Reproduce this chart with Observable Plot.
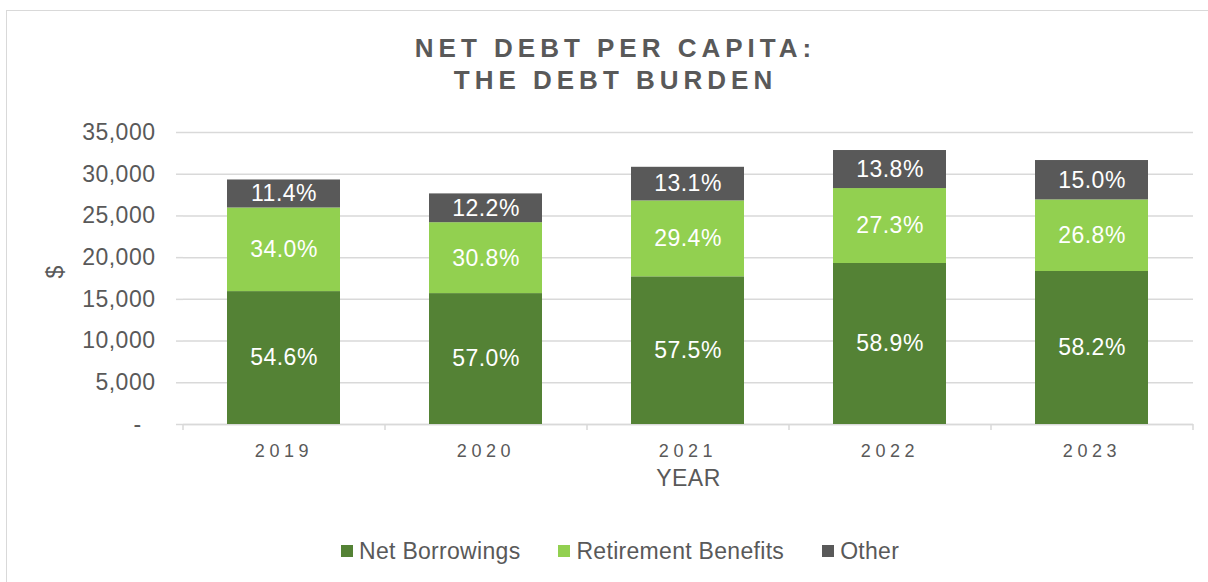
<!DOCTYPE html>
<html>
<head>
<meta charset="utf-8">
<script src="https://cdn.jsdelivr.net/npm/d3@7"></script>
<script src="https://cdn.jsdelivr.net/npm/@observablehq/plot@0.6"></script>
<style>
  html, body { margin: 0; padding: 0; background: #ffffff; }
  #wrap { position: relative; width: 1208px; height: 582px; overflow: hidden; background: #ffffff;
          font-family: "Liberation Sans", Arial, sans-serif; color: #595959; }
  #frame { position: absolute; left: 6px; top: 10px; width: 1400px; height: 800px;
           border: 1.5px solid #d9d9d9; box-sizing: border-box; }
  #title { position: absolute; top: 32px; left: 613px; transform: translateX(-50%);
           font-size: 26px; line-height: 32px; font-weight: bold; letter-spacing: 5px;
           padding-left: 5px; text-align: center; white-space: nowrap; color: #595959; }
  #chart { position: absolute; left: 0; top: 100px; }
  #chart svg text { letter-spacing: 0.5px; }
  #chart g[aria-label="x-axis tick label"] text { letter-spacing: 4.6px; }
  #legend { position: absolute; left: 341px; top: 540px; height: 22px; display: flex;
            align-items: center; gap: 38px; font-size: 23px; line-height: 22px; letter-spacing: 0.3px;
            color: #595959; white-space: nowrap; }
  .item { display: flex; align-items: center; }
  .sw { width: 12px; height: 12px; margin-right: 6px; }
</style>
</head>
<body>
<div id="wrap">
  <div id="frame"></div>
  <div id="title">NET DEBT PER CAPITA:<br>THE DEBT BURDEN</div>
  <div id="chart"></div>
  <div id="legend"></div>
</div>
<script>
// ---- data ----
const years = ["2019", "2020", "2021", "2022", "2023"];
const seriesNames = ["Net Borrowings", "Retirement Benefits", "Other"];
const seriesColors = ["#548235", "#92D050", "#595959"];
const netBorrowings = [15930, 15690, 17700, 19300, 18340];
const retirementBenefits = [10020, 8500, 9100, 8980, 8580];
const other = [3360, 3450, 4030, 4560, 4720];
const netPct = [54.6, 57.0, 57.5, 58.9, 58.2];
const retPct = [34.0, 30.8, 29.4, 27.3, 26.8];
const otherPct = [11.4, 12.2, 13.1, 13.8, 15.0];
const yTicks = [0, 5000, 10000, 15000, 20000, 25000, 30000, 35000];
const yLabel = "$";
const xLabel = "YEAR";

// ---- table ----
const seriesValues = [netBorrowings, retirementBenefits, other];
const seriesPct = [netPct, retPct, otherPct];
const rows = years.flatMap((yr, i) =>
  seriesNames.map((s, k) => ({ year: yr, series: s, value: seriesValues[k][i], pct: seriesPct[k][i] }))
);

// ---- layout ----
const W = 1208, H = 404, mL = 183, mR = 15, mT = 32, mB = 80;
const frameH = H - mT - mB;
const step = (W - mL - mR) / years.length;
const grid = "#d9d9d9";
const fmt = d3.format(",");

const chart = Plot.plot({
  width: W, height: H,
  marginLeft: mL, marginRight: mR, marginTop: mT, marginBottom: mB,
  style: { fontFamily: "'Liberation Sans', Arial, sans-serif", fontSize: "23px", color: "#595959", background: "transparent", overflow: "visible" },
  x: { domain: years, paddingInner: 0.44, paddingOuter: 0.22 },
  y: { domain: [0, 35000] },
  color: { domain: seriesNames, range: seriesColors },
  marks: [
    Plot.gridY({ ticks: yTicks, stroke: grid, strokeOpacity: 1, strokeWidth: 1.5 }),
    Plot.axisY({ ticks: yTicks, tickSize: 7, tickPadding: 21, stroke: grid, strokeWidth: 1.5, fill: "#595959",
                 label: null, tickFormat: d => d === 0 ? "-\u00a0\u00a0" : fmt(d) }),
    Plot.ruleY([0], { stroke: grid, strokeWidth: 1.5 }),
    Plot.ruleX(years, { x: d => d, dx: -step / 2, insetTop: frameH, insetBottom: -6, stroke: grid, strokeWidth: 1.5 }),
    Plot.ruleX(years.slice(-1), { x: d => d, dx: step / 2, insetTop: frameH, insetBottom: -6, stroke: grid, strokeWidth: 1.5 }),
    Plot.barY(rows, { x: "year", y: "value", fill: "series" }),
    Plot.text(rows, Plot.stackY({ x: "year", y: "value", text: d => d.pct.toFixed(1) + "%", fill: "white", fontSize: 23 })),
    Plot.axisX({ tickSize: 0, tickPadding: 20, fontSize: 18, fill: "#595959", label: null }),
    Plot.text([xLabel], { frameAnchor: "bottom", dy: 61, fontSize: 23, fill: "#595959" }),
    Plot.text([yLabel], { frameAnchor: "left", dx: -128, rotate: -90, fontSize: 23, fill: "#595959" })
  ]
});
document.getElementById("chart").appendChild(chart);

// ---- legend ----
const legend = document.getElementById("legend");
seriesNames.forEach((s, k) => {
  const item = document.createElement("div");
  item.className = "item";
  const sw = document.createElement("div");
  sw.className = "sw";
  sw.style.background = seriesColors[k];
  const t = document.createElement("span");
  t.textContent = s;
  item.appendChild(sw);
  item.appendChild(t);
  legend.appendChild(item);
});
</script>
</body>
</html>
